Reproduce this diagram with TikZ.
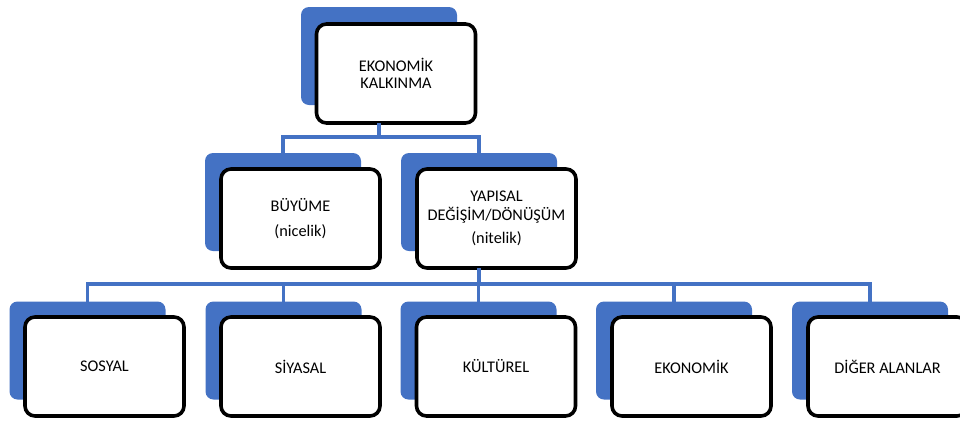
\documentclass[tikz,border=0pt]{standalone}
\usepackage{fontspec}
\setmainfont{Carlito}
\definecolor{accent}{HTML}{4472C4}
\begin{document}
\begin{tikzpicture}[x=1pt,y=-1pt,
  backbox/.style={fill=accent, draw=none, rounded corners=8pt, minimum width=156pt, minimum height=98pt, inner sep=0pt, outer sep=0pt},
  frontbox/.style={fill=white, draw=black, line width=3.6pt, rounded corners=10pt, minimum width=159pt, minimum height=99pt, inner sep=2pt, outer sep=0pt, align=center, font=\fontsize{16.3}{19}\selectfont},
  conn/.style={draw=accent, line width=3.6pt}]
\useasboundingbox (0,0) rectangle (960,421);
\clip (0,0) rectangle (960,421);
% level 0
\node[backbox] (b0) at (379,56) {};
\node[frontbox] (w0) at (396,73.5) {EKONOMİK\\[-2pt]KALKINMA};
% level 1
\node[backbox] (b1) at (283,202) {};
\node[frontbox] (w1) at (300.5,218.5) {BÜYÜME\\[6pt](nicelik)};
\node[backbox] (b2) at (479,202) {};
\node[frontbox] (w2) at (496.5,218.5) {YAPISAL\\DEĞİŞİM/DÖNÜŞÜM\\[4pt](nitelik)};
% level 2
\node[backbox] (c1) at (87.5,350.5) {};
\node[frontbox] (d1) at (104.5,366.5) {SOSYAL};
\node[backbox] (c2) at (283.5,350.5) {};
\node[frontbox] (d2) at (300.5,366.5) {SİYASAL};
\node[backbox] (c3) at (478.5,350.5) {};
\node[frontbox] (d3) at (496,366.5) {KÜLTÜREL};
\node[backbox] (c4) at (674,350.5) {};
\node[frontbox] (d4) at (691.5,366.5) {EKONOMİK};
\node[backbox] (c5) at (870,350.5) {};
\node[frontbox] (d5) at (887.5,366.5) {DİĞER ALANLAR};
% connector levels
\coordinate (bar1) at (0,137);
\coordinate (bar2) at (0,284);
\draw[conn] (w0.south -| b0.center) -- (b0.center |- bar1);
\draw[conn] (b1.north) -- (b1.north |- bar1) -- (b2.north |- bar1) -- (b2.north);
\draw[conn] (w2.south -| b2.center) -- (b2.center |- bar2);
\draw[conn] (c1.north) -- (c1.north |- bar2) -- (c5.north |- bar2) -- (c5.north);
\draw[conn] (c2.north) -- (c2.north |- bar2);
\draw[conn] (c3.north) -- (c3.north |- bar2);
\draw[conn] (c4.north) -- (c4.north |- bar2);
\end{tikzpicture}
\end{document}
